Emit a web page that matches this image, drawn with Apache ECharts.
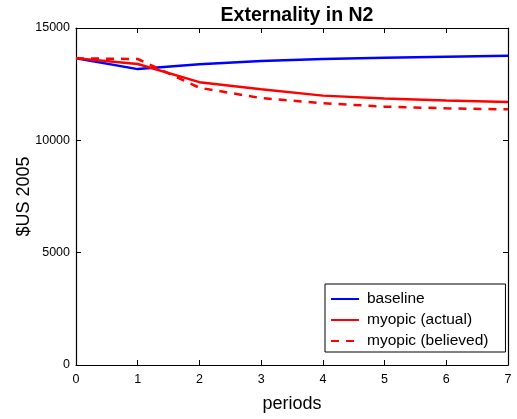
<!DOCTYPE html>
<html><head><meta charset="utf-8">
<script src="https://cdn.jsdelivr.net/npm/echarts@6/dist/echarts.min.js"></script>
<style>html,body{margin:0;padding:0;background:#fff}#c{width:517px;height:419px}</style>
</head><body><div id="c"></div>
<script>
const periods = [0, 1, 2, 3, 4, 5, 6, 7];
const baseline = [13650, 13170, 13390, 13530, 13620, 13680, 13725, 13765];
const myopicActual = [13650, 13400, 12590, 12270, 11990, 11860, 11770, 11705];
const myopicBelieved = [13650, 13620, 12340, 11880, 11650, 11500, 11425, 11380];
const yTicks = [0, 5000, 10000, 15000];

const font = 'Liberation Sans, Arial, Helvetica, sans-serif';
const pairs = arr => periods.map((p, i) => [p, arr[i]]);
const chart = echarts.init(document.getElementById('c'), null, {renderer: 'canvas'});
const axisCommon = {
  axisLine: {show: true, onZero: false, lineStyle: {color: '#000', width: 1.2}},
  axisTick: {show: true, inside: true, length: 5, lineStyle: {color: '#000'}},
  splitLine: {show: false}
};
chart.setOption({
  animation: false,
  title: {text: 'Externality in N2', left: 292, textAlign: 'center', top: 1,
    textStyle: {fontFamily: font, fontWeight: 'bold', fontSize: 19.5, color: '#000'}},
  grid: {left: 76, top: 28, width: 432, height: 337, containLabel: false, outerBoundsMode: 'none'},
  xAxis: [
    Object.assign({type: 'value', min: 0, max: 7, interval: 1, position: 'bottom',
      name: 'periods', nameLocation: 'middle', nameGap: 30, nameMoveOverlap: false,
      nameTextStyle: {fontFamily: font, fontSize: 18, color: '#000'},
      axisLabel: {fontFamily: font, fontSize: 12.5, color: '#000', margin: 8}}, axisCommon),
    Object.assign({type: 'value', min: 0, max: 7, interval: 1, position: 'top',
      axisLabel: {show: false}}, axisCommon)
  ],
  yAxis: [
    Object.assign({type: 'value', min: yTicks[0], max: yTicks[yTicks.length - 1], interval: 5000, position: 'left',
      name: '$US 2005', nameLocation: 'middle', nameGap: 43, nameMoveOverlap: false,
      nameTextStyle: {fontFamily: font, fontSize: 18, color: '#000'},
      axisLabel: {fontFamily: font, fontSize: 12.5, color: '#000', margin: 6,
        formatter: v => String(v)}}, axisCommon),
    Object.assign({type: 'value', min: yTicks[0], max: yTicks[yTicks.length - 1], interval: 5000, position: 'right',
      axisLabel: {show: false}}, axisCommon)
  ],
  legend: {
    orient: 'vertical', left: 325, top: 284, width: 180,
    backgroundColor: '#fff', borderColor: '#000', borderWidth: 1,
    padding: [7, 17, 3, 5], itemGap: 5, itemWidth: 28, itemHeight: 16,
    itemStyle: {color: 'rgba(0,0,0,0)', borderWidth: 0, opacity: 0},
    textStyle: {fontFamily: font, fontSize: 15.5, color: '#000', padding: [0, 0, 0, 3]},
    data: ['baseline', 'myopic (actual)', 'myopic (believed)']
  },
  series: [
    {name: 'baseline', type: 'line', data: pairs(baseline), symbol: 'none',
      color: '#0000ff', lineStyle: {color: '#0000ff', width: 2.5}},
    {name: 'myopic (actual)', type: 'line', data: pairs(myopicActual), symbol: 'none',
      color: '#ff0000', lineStyle: {color: '#ff0000', width: 2.5}},
    {name: 'myopic (believed)', type: 'line', data: pairs(myopicBelieved), symbol: 'none',
      color: '#ff0000', lineStyle: {color: '#ff0000', width: 2.5, type: [8, 7]}}
  ]
});
</script></body></html>
